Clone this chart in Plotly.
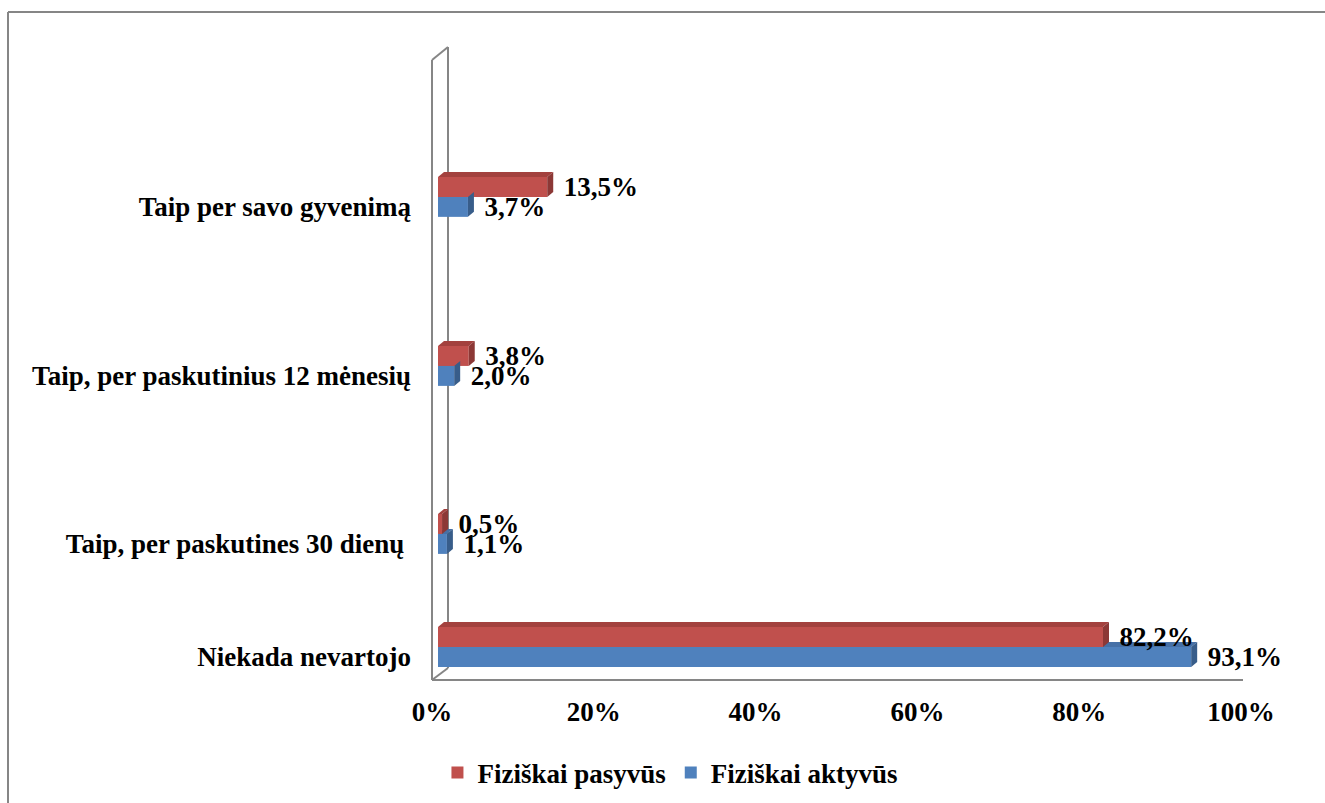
import plotly.graph_objects as go

# ---- data ----
categories = ["Niekada nevartojo", "Taip, per paskutines 30 dienų\u00a0",
              "Taip, per paskutinius 12 mėnesių", "Taip per savo gyvenimą"]
pasyvus = [82.2, 0.5, 3.8, 13.5]
aktyvus = [93.1, 1.1, 2.0, 3.7]
series_names = ["Fiziškai pasyvūs", "Fiziškai aktyvūs"]
x_ticks = [0, 20, 40, 60, 80, 100]
x_tick_labels = ["0%", "20%", "40%", "60%", "80%", "100%"]

# ---- layout constants (pixels) ----
W, H = 1325, 803
L, R, T, B = 438, 1247, 60, 680
cat_pos = [0.0, 0.669, 1.663, 2.663]          # category centres (axis units)
y_min, y_max = -0.195, 3.473
bar_w = 0.118
px_x = (R - L) / 100.0
px_y = (B - T) / (y_max - y_min)
DX, DY = 6, 5                                   # 3D depth in pixels
dx, dy = DX / px_x, DY / px_y

RED, RED_TOP, RED_SIDE = "#C0504D", "#A3413E", "#8C3836"
BLUE, BLUE_TOP, BLUE_SIDE = "#4F81BD", "#4670A6", "#385D8A"
GRAY = "#868686"
FONT = dict(family="Liberation Serif", size=27, color="black", weight="bold")

fig = go.Figure()
fig.add_trace(go.Bar(
    y=cat_pos, x=aktyvus, orientation="h", name=series_names[1],
    marker=dict(color=BLUE, line=dict(width=0)), width=bar_w, offset=-bar_w,
    texttemplate="\u00a0\u00a0%{x:.1f}%", textposition="outside", constraintext="none",
    cliponaxis=False, textfont=FONT, hoverinfo="skip"))
fig.add_trace(go.Bar(
    y=cat_pos, x=pasyvus, orientation="h", name=series_names[0],
    marker=dict(color=RED, line=dict(width=0)), width=bar_w, offset=0,
    texttemplate="\u00a0\u00a0%{x:.1f}%", textposition="outside", constraintext="none",
    cliponaxis=False, textfont=FONT, hoverinfo="skip"))

shapes = []

def poly(pts, color, layer):
    path = "M " + " L ".join(f"{x},{y}" for x, y in pts) + " Z"
    return dict(type="path", path=path, xref="x", yref="y", fillcolor=color,
                line=dict(width=0), layer=layer)

for c, va, vp in zip(cat_pos, aktyvus, pasyvus):
    # blue bar (below centre)
    yb, yt = c - bar_w, c
    shapes.append(poly([(0, yt), (va, yt), (va + dx, yt + dy), (dx, yt + dy)], BLUE_TOP, "below"))
    shapes.append(poly([(va, yb), (va, yt), (va + dx, yt + dy), (va + dx, yb + dy)], BLUE_SIDE, "above"))
    # red bar (above centre)
    yb, yt = c, c + bar_w
    shapes.append(poly([(0, yt), (vp, yt), (vp + dx, yt + dy), (dx, yt + dy)], RED_TOP, "above"))
    shapes.append(poly([(vp, yb), (vp, yt), (vp + dx, yt + dy), (vp + dx, yb + dy)], RED_SIDE, "above"))

def pxx(p):
    return (p - L) / (R - L)

def pxy(p):
    return (B - p) / (B - T)

def pline(x0, y0, x1, y1, color=GRAY, w=2):
    return dict(type="line", xref="paper", yref="paper", x0=pxx(x0), y0=pxy(y0),
                x1=pxx(x1), y1=pxy(y1), line=dict(color=color, width=w), layer="below")

# 3D wall / floor outline
shapes += [
    pline(432, 60, 432, 680),
    pline(448, 47, 448, 668),
    pline(432, 60, 448, 47),
    pline(432, 680, 448, 668),
    pline(432, 680, 1243, 680),
]
# chart border (top and left visible)
shapes += [
    pline(8, 12, 1330, 12),
    pline(8, 12, 8, 810),
]

fig.update_layout(
    width=W, height=H,
    margin=dict(l=L, r=W - R, t=T, b=H - B, autoexpand=False),
    paper_bgcolor="white", plot_bgcolor="white",
    barmode="overlay", separators=",.",
    shapes=shapes,
    showlegend=True,
    legend=dict(orientation="h", xref="container", yref="container",
                x=0.506, y=1 - 773 / H, xanchor="center", yanchor="middle",
                font=FONT, traceorder="reversed", itemclick=False),
    xaxis=dict(range=[0, 100], tickvals=x_ticks, ticktext=x_tick_labels, showgrid=False,
               zeroline=False, showline=False, ticks="", tickfont=FONT,
               ticklabelshift=-6, ticklabelstandoff=13, fixedrange=True),
    yaxis=dict(range=[y_min, y_max], tickvals=cat_pos, ticktext=categories,
               showgrid=False, zeroline=False, showline=False, ticks="",
               tickfont=FONT, ticklabelshift=10, ticklabelstandoff=26, fixedrange=True),
    font=FONT,
)

fig.write_html("out.html")
